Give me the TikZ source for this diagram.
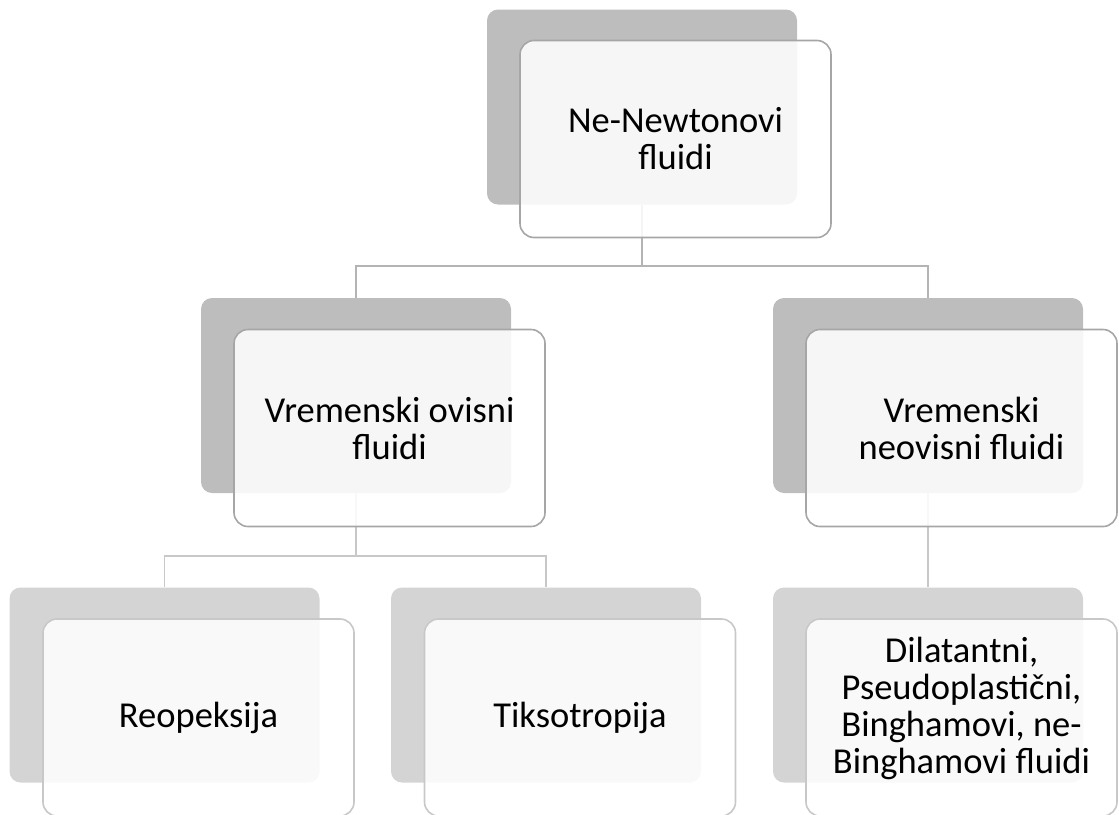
\documentclass[tikz,border=0pt]{standalone}
\usepackage{fontspec}
\setmainfont{Carlito}
\usetikzlibrary{calc}
\definecolor{backdark}{HTML}{BDBDBD}
\definecolor{backlight}{HTML}{D4D4D4}
\definecolor{edgedark}{HTML}{A6A6A6}
\definecolor{edgelight}{HTML}{C8C8C8}
\definecolor{linecol}{HTML}{B4B4B4}
\begin{document}
\begin{tikzpicture}[x=1pt,y=-1pt,
  backbox/.style={rectangle, rounded corners=11pt, minimum width=310pt, minimum height=195pt, inner sep=0pt, draw=none},
  frontbox/.style={rectangle, rounded corners=14pt, minimum width=311pt, minimum height=197pt, inner sep=0pt, fill=white, fill opacity=0.88, text opacity=1, line width=1.6pt, align=center, font=\fontsize{36.5}{37}\selectfont},
  lvlA/.style={draw=edgedark},
  lvlB/.style={draw=edgelight},
  conn/.style={draw=linecol, line width=1.6pt},
  connB/.style={draw=edgelight, line width=1.6pt}
]
\useasboundingbox (0,0) rectangle (1119,814);
\clip (0,0) rectangle (1119,814);
% back boxes
\node[backbox, fill=backdark]  (b0) at (642,107) {};
\node[backbox, fill=backdark]  (b1) at (356,395.5) {};
\node[backbox, fill=backdark]  (b2) at (928,395.5) {};
\node[backbox, fill=backlight] (b3) at (164.5,685) {};
\node[backbox, fill=backlight] (b4) at (546,685) {};
\node[backbox, fill=backlight] (b5) at (928,685) {};
% connectors
\draw[conn] (b0.south) -- ++(0,61) -| (b1.north);
\draw[conn] (b0.south) -- ++(0,61) -| (b2.north);
\draw[connB] (b1.south) -- ++(0,63) -| (b3.north);
\draw[connB] (b1.south) -- ++(0,63) -| (b4.north);
\draw[connB] (b2.south) -- (b5.north);
% front boxes
\node[frontbox, lvlA] (f0) at (675.5,139) {Ne-Newtonovi\\fluidi};
\node[frontbox, lvlA] (f1) at (389.5,428) {Vremenski ovisni\\fluidi};
\node[frontbox, lvlA] (f2) at (961.5,428) {Vremenski\\neovisni fluidi};
\node[frontbox, lvlB] (f3) at (198.5,717.5) {Reopeksija};
\node[frontbox, lvlB] (f4) at (580,717.5) {Tiksotropija};
\node[frontbox, lvlB] (f5) at (961.5,717.5) {};
\node[align=center, font=\fontsize{36.5}{37}\selectfont, inner sep=0pt] (t5) at ($(f5.center)+(0,-9)$) {Dilatantni,\\Pseudoplastični,\\Binghamovi, ne-\\Binghamovi fluidi};
\end{tikzpicture}
\end{document}
